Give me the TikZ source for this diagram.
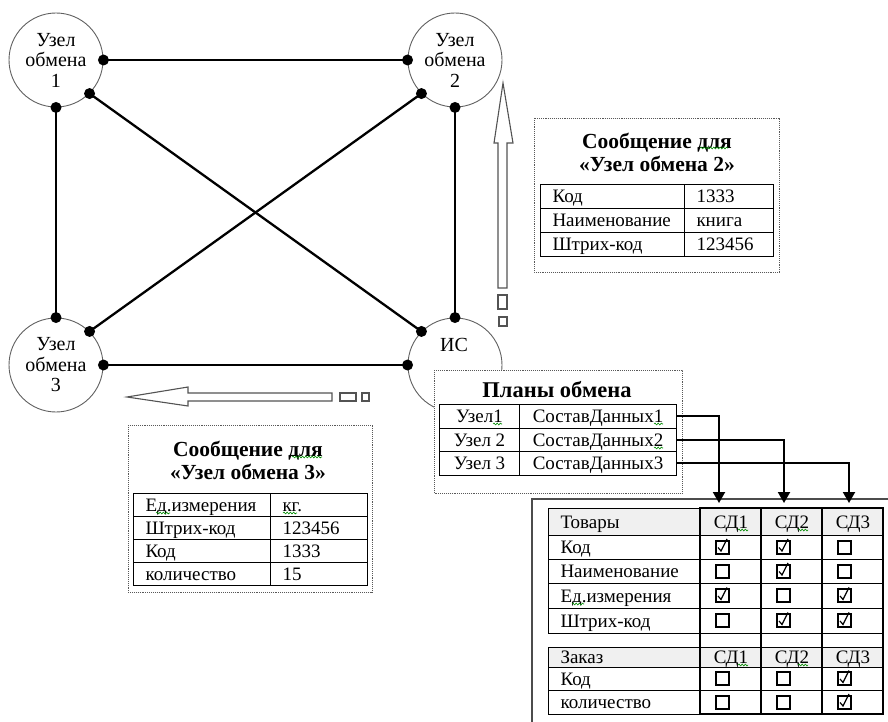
\documentclass[tikz,border=0pt]{standalone}
\usepackage{fontspec}
\setmainfont{Liberation Serif}
\usetikzlibrary{arrows.meta, decorations.pathmorphing}

\begin{document}
\begin{tikzpicture}[x=1pt, y=-1pt,
    uzel/.style={circle, draw=gray!75!black, line width=0.9, minimum size=94, inner sep=0, align=center, font=\fontsize{20}{20.5}\selectfont},
    svyaz/.style={line width=2.3},
    ramka/.style={draw=gray!70!black, densely dotted, line width=0.9},
    strelka/.style={draw=gray!65!black, line width=1.1, fill=white},
    yach/.style 2 args={draw, line width=1, inner ysep=0, inner xsep=12, text width=#1, minimum height=#2, text height=12.5pt, text depth=0pt, anchor=north west, align=left, font=\fontsize{19}{22}\selectfont},
    yachc/.style 2 args={draw, line width=1, inner sep=0, minimum width=#1, minimum height=#2, text height=12.5pt, text depth=0pt, anchor=north west, font=\fontsize{19}{22}\selectfont},
    zagolovok/.style={align=center, font=\bfseries\fontsize{21.5}{23}\selectfont},
    potok/.style={line width=2, -{Triangle[length=11pt, width=12pt]}, shorten >=5pt},
    volnist/.style={green!55!black, line width=0.6, decorate, decoration={snake, amplitude=0.9, segment length=3.2}},
]
    \useasboundingbox (0,0) rectangle (888,722);

    % Волнистая линия проверки орфографии
    \def\volna#1#2#3{\draw[volnist] (#1,#3) -- (#2,#3);}

    % Флажок: x, y, отмечен или нет
    \def\flazhok#1#2#3{%
        \draw[line width=2] (#1-6.5,#2-6.5) rectangle (#1+6.5,#2+6.5);%
        \ifnum#3=1 \draw[line width=1.2] (#1-4,#2+0.5) -- (#1-1,#2+4) -- (#1+5,#2-8);\fi%
    }

    % -- Узлы обмена --
    \node[uzel] (u1) at (56,60) {Узел\\обмена\\1};
    \node[uzel] (u2) at (455,60) {Узел\\обмена\\2};
    \node[uzel] (u3) at (56,365) {Узел\\обмена\\3};
    \node[uzel] (is) at (455,365) {};
    \node[font=\fontsize{20}{20}\selectfont] (islbl) at (454,345) {ИС};

    \draw[svyaz] (u1.0) -- (u2.180);
    \draw[svyaz] (u1.-45) -- (is.135);
    \draw[line width=1.3] (u1.-90) -- (u3.90);
    \draw[svyaz] (u2.-135) -- (u3.45);
    \draw[svyaz] (u2.-90) -- (is.90);
    \draw[svyaz] (u3.0) -- (is.180);

    \foreach \p in {u1.0, u1.-45, u1.-90, u2.180, u2.-135, u2.-90, u3.90, u3.45, u3.0, is.90, is.135, is.180}
        \fill (\p) circle (5.5);

    % -- Стрелки передачи --
    \draw[strelka] (498,288) -- (498,143) -- (494,143) -- (503,83) -- (513,143) -- (507,143) -- (507,288) -- cycle;
    \draw[strelka] (498,295) rectangle (507,309);
    \draw[strelka] (499,317) rectangle (507,326);

    \draw[strelka] (332,393) -- (188,393) -- (188,387) -- (127,397) -- (188,406) -- (188,401) -- (332,401) -- cycle;
    \draw[strelka] (340,393) rectangle (356,401);
    \draw[strelka] (362,393) rectangle (369,401);

    % -- Сообщение для узла 2 --
    \draw[ramka] (534,118) rectangle (779,272);
    \node[zagolovok] (mdvat) at (657,152) {Сообщение для\\«Узел обмена 2»};
    \foreach \a/\b [count=\i] in {Код/1333, Наименование/книга, Штрих-код/123456} {
        \node[yach={120}{24}] (mdva\i) at (540,160+24*\i) {\a};
        \node[yach={65}{24}] (mdvb\i) at (684,160+24*\i) {\b};
    }

    % -- Сообщение для узла 3 --
    \draw[ramka] (128,425) rectangle (372,592);
    \node[zagolovok] (mtrit) at (248,460) {Сообщение для\\«Узел обмена 3»};
    \foreach \a/\b [count=\i] in {Ед.измерения/кг., Штрих-код/123456, Код/1333, количество/15} {
        \node[yach={113}{23}] (mtria\i) at (133,470+23*\i) {\a};
        \node[yach={73}{23}] (mtrib\i) at (270,470+23*\i) {\b};
    }

    % -- Планы обмена --
    \draw[ramka, fill=white] (434,370) rectangle (682,493);
    \node[font=\bfseries\fontsize{22.5}{24}\selectfont] (plt) at (557,390) {Планы обмена};
    \foreach \a [count=\i] in {Узел1, Узел 2, Узел 3} {
        \node[yachc={80}{23.5}] (pu\i) at (439,380.5+23.5*\i) {\a};
        \node[yachc={157}{23.5}] (pd\i) at (519,380.5+23.5*\i) {СоставДанных\i};
    }

    % -- Состав данных --
    \draw[gray!60!black, line width=2] (888,499) -- (532,499) -- (532,722);

    \node[yach={128}{27}, fill=gray!12] (tov) at (548,508) {Товары};
    \foreach \j in {1,2,3}
        \node[yachc={61}{27}, fill=gray!12] (cd\j) at (639+61*\j,508) {СД\j};
    \foreach \a/\y/\h [count=\i] in {Код/535/24, Наименование/559/24, Ед.измерения/583/25, Штрих-код/608/25} {
        \node[yach={128}{\h}] (tr\i) at (548,\y) {\a};
        \foreach \j in {1,2,3}
            \node[yachc={61}{\h}] (tr\i-\j) at (639+61*\j,\y) {};
    }

    \node[yach={128}{20}, fill=gray!12] (zak) at (548,647) {Заказ};
    \foreach \j in {1,2,3}
        \node[yachc={61}{20}, fill=gray!12] (zd\j) at (639+61*\j,647) {СД\j};
    \foreach \a/\y/\h [count=\i] in {Код/667/23, количество/690/24} {
        \node[yach={128}{\h}] (zr\i) at (548,\y) {\a};
        \foreach \j in {1,2,3}
            \node[yachc={61}{\h}] (zr\i-\j) at (639+61*\j,\y) {};
    }

    \foreach \j in {1,2,3}
        \draw[line width=2] (639+61*\j,508) rectangle (700+61*\j,714);

    \foreach \y/\a/\b/\c in {547/1/1/0, 571/0/1/0, 595.5/1/0/1, 620.5/0/1/1, 678.5/0/0/1, 702/0/0/1} {
        \flazhok{722}{\y}{\a}
        \flazhok{783}{\y}{\b}
        \flazhok{844}{\y}{\c}
    }

    % Связь планов с составом данных
    \coordinate (vhod1) at (719,508);
    \coordinate (vhod2) at (784,508);
    \coordinate (vhod3) at (849,508);
    \draw[potok] (pd1.east) -| (vhod1);
    \draw[potok] (pd2.east) -| (vhod2);
    \draw[potok] (pd3.east) -| (vhod3);

    % Подчёркивания
    \volna{700}{728}{148}
    \volna{292}{322}{457}
    \volna{156}{170}{513}
    \volna{283}{297}{513}
    \volna{493}{502}{424}
    \volna{654}{663}{424}
    \volna{654}{663}{448}
    \volna{738}{748}{530}
    \volna{798}{808}{530}
    \volna{738}{748}{665}
    \volna{798}{808}{665}
    \volna{572}{584}{604}
\end{tikzpicture}
\end{document}
